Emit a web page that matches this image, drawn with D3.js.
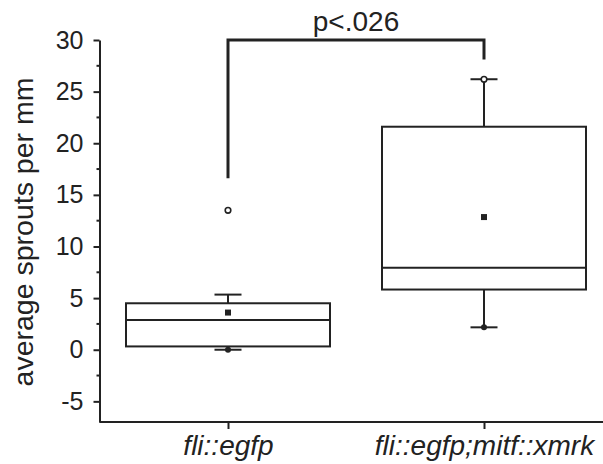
<!DOCTYPE html>
<html>
<head>
<meta charset="utf-8">
<script src="https://cdn.jsdelivr.net/npm/d3@7"></script>
<style>
  body { margin: 0; background: #fff; }
  text { font-family: "Liberation Sans", Arial, sans-serif; fill: #222; }
</style>
</head>
<body>
<div id="chart"></div>
<script>
// values
var groups = ["fli::egfp", "fli::egfp;mitf::xmrk"];
var q1 = [0.32, 5.83];
var medians = [2.88, 7.93];
var q3 = [4.5, 21.6];
var whiskerLow = [0, 2.17];
var whiskerHigh = [5.34, 26.2];
var means = [3.6, 12.85];
var minMarks = [0, 2.17];
var maxMarks = [13.5, 26.2];
var yTicks = [-5, 0, 5, 10, 15, 20, 25, 30];
var pLabel = "p<.026";
var bracketEnds = [16.6, 28.1];
var bracketTop = 30;

var width = 603, height = 464;
var margin = {top: 40, right: 0, bottom: 42, left: 99.5};
var ink = "#222";

var svg = d3.select("#chart").append("svg")
    .attr("width", width)
    .attr("height", height);

var y = d3.scaleLinear()
    .domain([-7, 30])
    .range([height - margin.bottom, margin.top]);

var x = d3.scalePoint()
    .domain(groups)
    .range([228, 484]);

var boxW = 204, capW = 27;

// y axis
var yAxis = svg.append("g")
    .attr("transform", "translate(" + margin.left + ",0)")
    .call(d3.axisLeft(y).tickValues(yTicks)
        .tickFormat(function (d) { return String(d); })
        .tickSize(6).tickPadding(10).tickSizeOuter(0));
yAxis.select(".domain").attr("stroke", ink).attr("stroke-width", 2);
yAxis.selectAll(".tick line").attr("stroke", ink).attr("stroke-width", 2);
yAxis.selectAll(".tick text").attr("font-size", 25).attr("fill", ink)
    .attr("font-family", "Liberation Sans, Arial, sans-serif");

// minor ticks
svg.append("g").selectAll("line")
    .data(d3.range(-2.5, 30, 5))
    .join("line")
    .attr("x1", margin.left - 3).attr("x2", margin.left)
    .attr("y1", function (d) { return y(d); })
    .attr("y2", function (d) { return y(d); })
    .attr("stroke", ink).attr("stroke-width", 2);

// x axis
var xAxis = svg.append("g")
    .attr("transform", "translate(0," + y(-7) + ")")
    .call(d3.axisBottom(x).tickSize(7).tickPadding(6).tickSizeOuter(0));
xAxis.select(".domain").attr("d", "M" + margin.left + ",0H" + width)
    .attr("stroke", ink).attr("stroke-width", 2);
xAxis.selectAll(".tick line").attr("stroke", ink).attr("stroke-width", 2);
xAxis.selectAll(".tick text").attr("font-size", 28).attr("fill", ink)
    .attr("font-style", "italic")
    .attr("font-family", "Liberation Sans, Arial, sans-serif");

// y label
svg.append("text")
    .attr("transform", "translate(33," + ((y(-7) + y(30)) / 2 + 1) + ") rotate(-90)")
    .attr("text-anchor", "middle")
    .attr("font-size", 28.5)
    .text("average sprouts per mm");

// boxes
var g = svg.append("g").selectAll("g")
    .data(groups)
    .join("g");

g.append("line")
    .attr("x1", function (d) { return x(d); })
    .attr("x2", function (d) { return x(d); })
    .attr("y1", function (d, i) { return y(whiskerLow[i]); })
    .attr("y2", function (d, i) { return y(whiskerHigh[i]); })
    .attr("stroke", ink).attr("stroke-width", 2);

g.append("rect")
    .attr("x", function (d) { return x(d) - boxW / 2; })
    .attr("width", boxW)
    .attr("y", function (d, i) { return y(q3[i]); })
    .attr("height", function (d, i) { return y(q1[i]) - y(q3[i]); })
    .attr("fill", "#fff").attr("stroke", ink).attr("stroke-width", 2);

g.append("line")
    .attr("x1", function (d) { return x(d) - boxW / 2; })
    .attr("x2", function (d) { return x(d) + boxW / 2; })
    .attr("y1", function (d, i) { return y(medians[i]); })
    .attr("y2", function (d, i) { return y(medians[i]); })
    .attr("stroke", ink).attr("stroke-width", 2);

[whiskerLow, whiskerHigh].forEach(function (arr) {
    g.append("line")
        .attr("x1", function (d) { return x(d) - capW / 2; })
        .attr("x2", function (d) { return x(d) + capW / 2; })
        .attr("y1", function (d, i) { return y(arr[i]); })
        .attr("y2", function (d, i) { return y(arr[i]); })
        .attr("stroke", ink).attr("stroke-width", 2);
});

g.append("rect")
    .attr("x", function (d) { return x(d) - 3; })
    .attr("y", function (d, i) { return y(means[i]) - 3; })
    .attr("width", 6).attr("height", 6)
    .attr("fill", ink);

g.append("circle")
    .attr("cx", function (d) { return x(d); })
    .attr("cy", function (d, i) { return y(minMarks[i]); })
    .attr("r", 3)
    .attr("fill", ink);

g.append("circle")
    .attr("cx", function (d) { return x(d); })
    .attr("cy", function (d, i) { return y(maxMarks[i]); })
    .attr("r", 2.8)
    .attr("fill", "#fff").attr("stroke", ink).attr("stroke-width", 1.6);

// significance bracket
svg.append("path")
    .attr("d", d3.line()([
        [x(groups[0]), y(bracketEnds[0])],
        [x(groups[0]), y(bracketTop)],
        [x(groups[1]), y(bracketTop)],
        [x(groups[1]), y(bracketEnds[1])]
    ]))
    .attr("fill", "none").attr("stroke", ink).attr("stroke-width", 3);

svg.append("text")
    .attr("x", (x(groups[0]) + x(groups[1])) / 2)
    .attr("y", y(bracketTop) - 9)
    .attr("text-anchor", "middle")
    .attr("font-size", 28)
    .text(pLabel);
</script>
</body>
</html>
